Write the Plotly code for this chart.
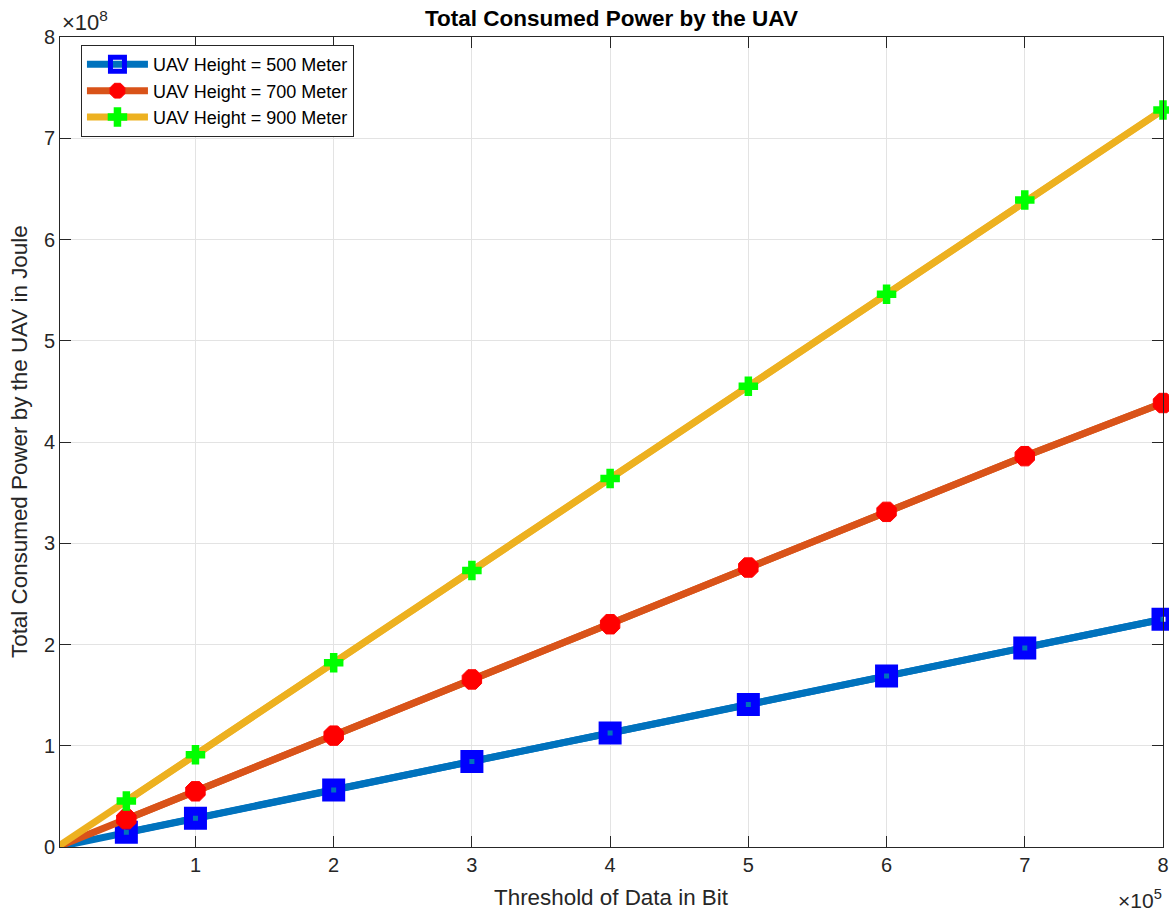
import plotly.graph_objects as go

# Data
threshold_bits = [0, 50000, 100000, 200000, 300000, 400000, 500000, 600000, 700000, 800000]
power_h500 = [0, 1.45e7, 2.83e7, 5.63e7, 8.45e7, 1.126e8, 1.408e8, 1.69e8, 1.965e8, 2.25e8]
power_h700 = [0, 2.75e7, 5.5e7, 1.1e8, 1.655e8, 2.2e8, 2.76e8, 3.31e8, 3.86e8, 4.385e8]
power_h900 = [0, 4.55e7, 9.1e7, 1.82e8, 2.73e8, 3.64e8, 4.55e8, 5.46e8, 6.39e8, 7.28e8]
series_names = ["UAV Height = 500 Meter", "UAV Height = 700 Meter", "UAV Height = 900 Meter"]

x_tick_vals = [100000, 200000, 300000, 400000, 500000, 600000, 700000, 800000]
x_tick_text = ["1", "2", "3", "4", "5", "6", "7", "8"]
y_tick_vals = [0, 1e8, 2e8, 3e8, 4e8, 5e8, 6e8, 7e8, 8e8]
y_tick_text = ["0", "1", "2", "3", "4", "5", "6", "7", "8"]

line_colors = ["#0072BD", "#D95319", "#EDB120"]
marker_styles = [
    dict(symbol="square-open", size=14, color="#0000FF", line=dict(width=9)),
    dict(symbol="octagon", size=21, color="#FF0000", line=dict(width=1, color="#FF0000")),
    dict(symbol="cross", size=15, color="#00FF00", line=dict(width=1.5, color="#00FF00")),
]

FONT = "Liberation Sans, Arial, sans-serif"

fig = go.Figure()
for ys, name, lc, ms in zip([power_h500, power_h700, power_h900], series_names, line_colors, marker_styles):
    # full line including the origin (no marker there)
    fig.add_trace(go.Scatter(x=threshold_bits, y=ys, mode="lines",
                             line=dict(color=lc, width=7), showlegend=False, hoverinfo="skip"))
    fig.add_trace(go.Scatter(x=threshold_bits[1:], y=ys[1:], mode="lines+markers", name=name,
                             line=dict(color=lc, width=7), marker=ms, cliponaxis=False))

axis_common = dict(
    showline=True, linecolor="#262626", linewidth=1, mirror="ticks",
    ticks="inside", ticklen=11, tickcolor="#262626", tickwidth=1,
    showgrid=True, gridcolor="#e3e3e3", gridwidth=1, zeroline=False,
    automargin=False,
    tickfont=dict(family=FONT, size=20, color="#262626"),
)

fig.update_layout(
    width=1169, height=912,
    margin=dict(l=60, r=6, t=37, b=65, autoexpand=False),
    paper_bgcolor="white", plot_bgcolor="white",
    font=dict(family=FONT, color="#262626"),
    xaxis=dict(range=[2000, 800000], tickvals=x_tick_vals, ticktext=x_tick_text, **axis_common),
    yaxis=dict(range=[0, 8e8], tickvals=y_tick_vals, ticktext=y_tick_text, **axis_common),
    legend=dict(x=0.019, y=0.99, xanchor="left", yanchor="top",
                bgcolor="white", bordercolor="#262626", borderwidth=1,
                font=dict(family=FONT, size=18, color="#000000"),
                itemwidth=61, tracegroupgap=0),
    showlegend=True,
)

fig.add_annotation(text="<b>Total Consumed Power by the UAV</b>", xref="paper", yref="paper",
                   x=0.5, y=1, yanchor="middle", yshift=19, showarrow=False,
                   font=dict(family=FONT, size=22.5, color="#000000"))
fig.add_annotation(text="Threshold of Data in Bit", xref="paper", yref="paper",
                   x=0.5, y=0, yanchor="middle", yshift=-50, showarrow=False,
                   font=dict(family=FONT, size=22.4, color="#262626"))
fig.add_annotation(text="Total Consumed Power by the UAV in Joule", xref="paper", yref="paper",
                   x=0, y=0.5, xanchor="center", xshift=-41, textangle=-90, showarrow=False,
                   font=dict(family=FONT, size=22.4, color="#262626"))
fig.add_annotation(text="×10<sup>8</sup>", xref="paper", yref="paper",
                   x=0, y=1, xanchor="left", yanchor="bottom", yshift=0, showarrow=False,
                   font=dict(family=FONT, size=22, color="#262626"))
fig.add_annotation(text="×10<sup>5</sup>", xref="paper", yref="paper",
                   x=1, y=0, xanchor="right", yanchor="top", yshift=-37, xshift=1, showarrow=False,
                   font=dict(family=FONT, size=21, color="#262626"))

fig.write_html("out.html", config={"displayModeBar": False},
               post_script="document.body.style.margin='0px';document.body.style.padding='0px';")
